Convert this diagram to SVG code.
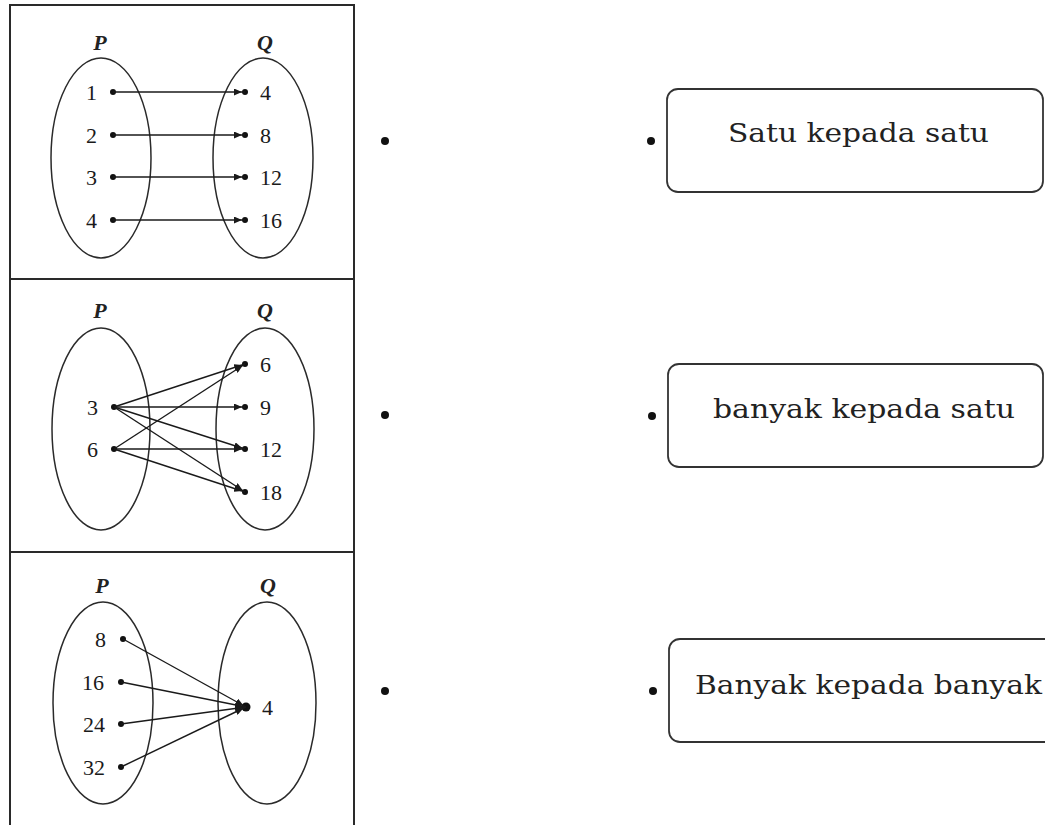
<svg xmlns="http://www.w3.org/2000/svg" width="1045" height="825" viewBox="0 0 1045 825">
<defs>
<marker id="ah" markerUnits="userSpaceOnUse" markerWidth="9" markerHeight="7" refX="11" refY="3.5" orient="auto">
<path d="M0,0 L8,3.5 L0,7 z" fill="#1a1a1a"/>
</marker>
</defs>
<style>
.frame{fill:none;stroke:#2a2a2a;stroke-width:2}
.ell{fill:none;stroke:#2a2a2a;stroke-width:1.5}
.lbl{font-family:"Liberation Serif",serif;font-style:italic;font-weight:bold;font-size:22px;fill:#222}
.num{font-family:"Liberation Serif",serif;font-size:22px;fill:#1a1a1a}
.dot{fill:#111}
.arr{stroke:#1a1a1a;stroke-width:1.4;fill:none;marker-end:url(#ah)}
.box{fill:#fff;stroke:#333;stroke-width:1.8}
.btxt{font-family:"DejaVu Serif",serif;font-size:26px;fill:#222}
</style>
<rect width="1045" height="825" fill="#fff"/>

<g id="frame">
<line class="frame" x1="10" y1="5" x2="354" y2="5"/>
<line class="frame" x1="10" y1="4" x2="10" y2="825"/>
<line class="frame" x1="354" y1="4" x2="354" y2="825"/>
<line class="frame" x1="10" y1="279" x2="354" y2="279"/>
<line class="frame" x1="10" y1="552" x2="354" y2="552"/>
</g>

<g id="panel1">
<text class="lbl" x="100" y="50" text-anchor="middle">P</text>
<text class="lbl" x="265" y="50" text-anchor="middle">Q</text>
<ellipse class="ell" cx="101" cy="158" rx="50" ry="100"/>
<ellipse class="ell" cx="263" cy="158" rx="50" ry="100"/>
<text class="num" x="97" y="100" text-anchor="end">1</text>
<text class="num" x="97" y="143" text-anchor="end">2</text>
<text class="num" x="97" y="185" text-anchor="end">3</text>
<text class="num" x="97" y="228" text-anchor="end">4</text>
<text class="num" x="260" y="100">4</text>
<text class="num" x="260" y="143">8</text>
<text class="num" x="260" y="185">12</text>
<text class="num" x="260" y="228">16</text>
<circle class="dot" cx="113" cy="92" r="3"/>
<circle class="dot" cx="113" cy="135" r="3"/>
<circle class="dot" cx="113" cy="177" r="3"/>
<circle class="dot" cx="113" cy="220" r="3"/>
<circle class="dot" cx="245" cy="92" r="3"/>
<circle class="dot" cx="245" cy="135" r="3"/>
<circle class="dot" cx="245" cy="177" r="3"/>
<circle class="dot" cx="245" cy="220" r="3"/>
</g>

<g id="panel2">
<text class="lbl" x="100" y="318" text-anchor="middle">P</text>
<text class="lbl" x="265" y="318" text-anchor="middle">Q</text>
<ellipse class="ell" cx="101" cy="429" rx="49" ry="101"/>
<ellipse class="ell" cx="265" cy="429" rx="49" ry="101"/>
<text class="num" x="98" y="415" text-anchor="end">3</text>
<text class="num" x="98" y="457" text-anchor="end">6</text>
<text class="num" x="260" y="372">6</text>
<text class="num" x="260" y="415">9</text>
<text class="num" x="260" y="457">12</text>
<text class="num" x="260" y="500">18</text>
<circle class="dot" cx="114" cy="407" r="3"/>
<circle class="dot" cx="114" cy="449" r="3"/>
<circle class="dot" cx="245" cy="364" r="3"/>
<circle class="dot" cx="245" cy="407" r="3"/>
<circle class="dot" cx="245" cy="449" r="3"/>
<circle class="dot" cx="245" cy="492" r="3"/>
</g>

<g id="panel3">
<text class="lbl" x="102" y="593" text-anchor="middle">P</text>
<text class="lbl" x="268" y="593" text-anchor="middle">Q</text>
<ellipse class="ell" cx="103" cy="703" rx="50" ry="101"/>
<ellipse class="ell" cx="267" cy="703" rx="49" ry="101"/>
<text class="num" x="106" y="647" text-anchor="end">8</text>
<text class="num" x="104" y="690" text-anchor="end">16</text>
<text class="num" x="105" y="732" text-anchor="end">24</text>
<text class="num" x="105" y="775" text-anchor="end">32</text>
<text class="num" x="262" y="715">4</text>
<circle class="dot" cx="123" cy="639" r="3"/>
<circle class="dot" cx="121" cy="682" r="3"/>
<circle class="dot" cx="121" cy="724" r="3"/>
<circle class="dot" cx="121" cy="767" r="3"/>
<circle class="dot" cx="246" cy="707" r="4.5"/>
</g>

<g id="connectors">
<line class="arr" x1="113" y1="92" x2="245" y2="92"/>
<line class="arr" x1="113" y1="135" x2="245" y2="135"/>
<line class="arr" x1="113" y1="177" x2="245" y2="177"/>
<line class="arr" x1="113" y1="220" x2="245" y2="220"/>

<line class="arr" x1="114" y1="407" x2="245" y2="364"/>
<line class="arr" x1="114" y1="407" x2="245" y2="407"/>
<line class="arr" x1="114" y1="407" x2="245" y2="449"/>
<line class="arr" x1="114" y1="407" x2="245" y2="492"/>
<line class="arr" x1="114" y1="449" x2="245" y2="364"/>
<line class="arr" x1="114" y1="449" x2="245" y2="449"/>
<line class="arr" x1="114" y1="449" x2="245" y2="492"/>

<line class="arr" x1="123" y1="639" x2="246" y2="707"/>
<line class="arr" x1="121" y1="682" x2="246" y2="707"/>
<line class="arr" x1="121" y1="724" x2="246" y2="707"/>
<line class="arr" x1="121" y1="767" x2="246" y2="707"/>
</g>

<g id="midDots">
<circle class="dot" cx="385" cy="141" r="4"/>
<circle class="dot" cx="385" cy="415" r="4"/>
<circle class="dot" cx="385" cy="691" r="4"/>
</g>

<g id="opt1">
<circle class="dot" cx="651" cy="141" r="4"/>
<rect class="box" x="667" y="89" width="376" height="103" rx="11"/>
<text class="btxt" x="728" y="142" textLength="261" lengthAdjust="spacingAndGlyphs">Satu kepada satu</text>
</g>
<g id="opt2">
<circle class="dot" cx="652" cy="416" r="4"/>
<rect class="box" x="668" y="364" width="375" height="103" rx="11"/>
<text class="btxt" x="713" y="418" textLength="302" lengthAdjust="spacingAndGlyphs">banyak kepada satu</text>
</g>
<g id="opt3">
<circle class="dot" cx="653" cy="691" r="4"/>
<rect class="box" x="669" y="639" width="390" height="103" rx="11"/>
<text class="btxt" x="695" y="694" textLength="347" lengthAdjust="spacingAndGlyphs">Banyak kepada banyak</text>
</g>
</svg>
